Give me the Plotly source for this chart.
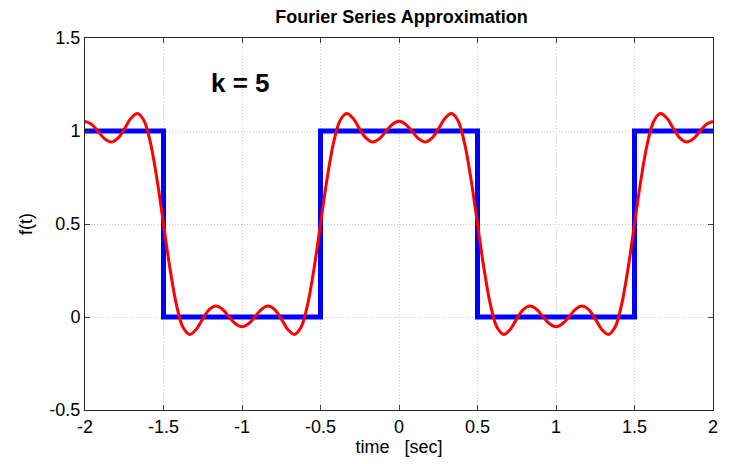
import numpy as np
import plotly.graph_objects as go

# Square wave (blue) breakpoints
square_t = [-2, -1.5, -1.5, -0.5, -0.5, 0.5, 0.5, 1.5, 1.5, 2]
square_y = [1, 1, 0, 0, 1, 1, 0, 0, 1, 1]

# Fourier approximation (red), sampled every 1/24 s from -2 to 2
approx_t = np.linspace(-2, 2, 97)
approx_y = [
    1.052, 1.036, 0.998, 0.958, 0.941, 0.960, 1.010, 1.067, 1.094, 1.057, 0.938, 0.742,
    0.500, 0.258, 0.062, -0.057, -0.094, -0.067, -0.010, 0.040, 0.059, 0.042, 0.002, -0.036,
    -0.052, -0.036, 0.002, 0.042, 0.059, 0.040, -0.010, -0.067, -0.094, -0.057, 0.062, 0.258,
    0.500, 0.742, 0.938, 1.057, 1.094, 1.067, 1.010, 0.960, 0.941, 0.958, 0.998, 1.036,
    1.052,
    1.036, 0.998, 0.958, 0.941, 0.960, 1.010, 1.067, 1.094, 1.057, 0.938, 0.742, 0.500,
    0.258, 0.062, -0.057, -0.094, -0.067, -0.010, 0.040, 0.059, 0.042, 0.002, -0.036, -0.052,
    -0.036, 0.002, 0.042, 0.059, 0.040, -0.010, -0.067, -0.094, -0.057, 0.062, 0.258, 0.500,
    0.742, 0.938, 1.057, 1.094, 1.067, 1.010, 0.960, 0.941, 0.958, 0.998, 1.036, 1.052,
]

x_ticks = [-2, -1.5, -1, -0.5, 0, 0.5, 1, 1.5, 2]
x_tick_labels = ["-2", "-1.5", "-1", "-0.5", "0", "0.5", "1", "1.5", "2"]
y_ticks = [-0.5, 0, 0.5, 1, 1.5]
y_tick_labels = ["-0.5", "0", "0.5", "1", "1.5"]

FONT = "Liberation Sans, Arial, Helvetica, sans-serif"

fig = go.Figure()
fig.add_trace(go.Scatter(x=square_t, y=square_y, mode="lines",
                         line=dict(color="#0000FF", width=5), showlegend=False))
fig.add_trace(go.Scatter(x=approx_t, y=approx_y, mode="lines",
                         line=dict(color="#FF0000", width=3, shape="spline", smoothing=1),
                         showlegend=False))

axis_common = dict(
    showline=True, linecolor="#262626", linewidth=1, mirror="allticks",
    ticks="inside", ticklen=5, tickcolor="#404040", tickwidth=1,
    showgrid=True, gridcolor="#c8c8c8", griddash="1px,2px", gridwidth=1,
    zeroline=False, tickfont=dict(family=FONT, size=18, color="black"),
)

fig.update_layout(
    width=729, height=464,
    margin=dict(l=85, r=11, t=38, b=54),
    paper_bgcolor="white", plot_bgcolor="white",
    font=dict(family=FONT, color="black"),
    title=dict(text="<b>Fourier Series Approximation</b>", x=(85 + 718) / 2 / 729, xanchor="center",
               y=0.963, yanchor="middle", font=dict(family=FONT, size=18, color="black")),
    xaxis=dict(range=[-2, 2], tickvals=x_ticks, ticktext=x_tick_labels,
               title=dict(text="time   [sec]", font=dict(family=FONT, size=18), standoff=4),
               **axis_common),
    yaxis=dict(range=[-0.5, 1.5], tickvals=y_ticks, ticktext=y_tick_labels,
               title=dict(text="f(t)", font=dict(family=FONT, size=18), standoff=12),
               **axis_common),
    annotations=[dict(x=-1.008, y=1.258, xref="x", yref="y", text="<b>k = 5</b>",
                      showarrow=False, font=dict(family=FONT, size=26, color="black"))],
)

fig.write_html("out.html")
